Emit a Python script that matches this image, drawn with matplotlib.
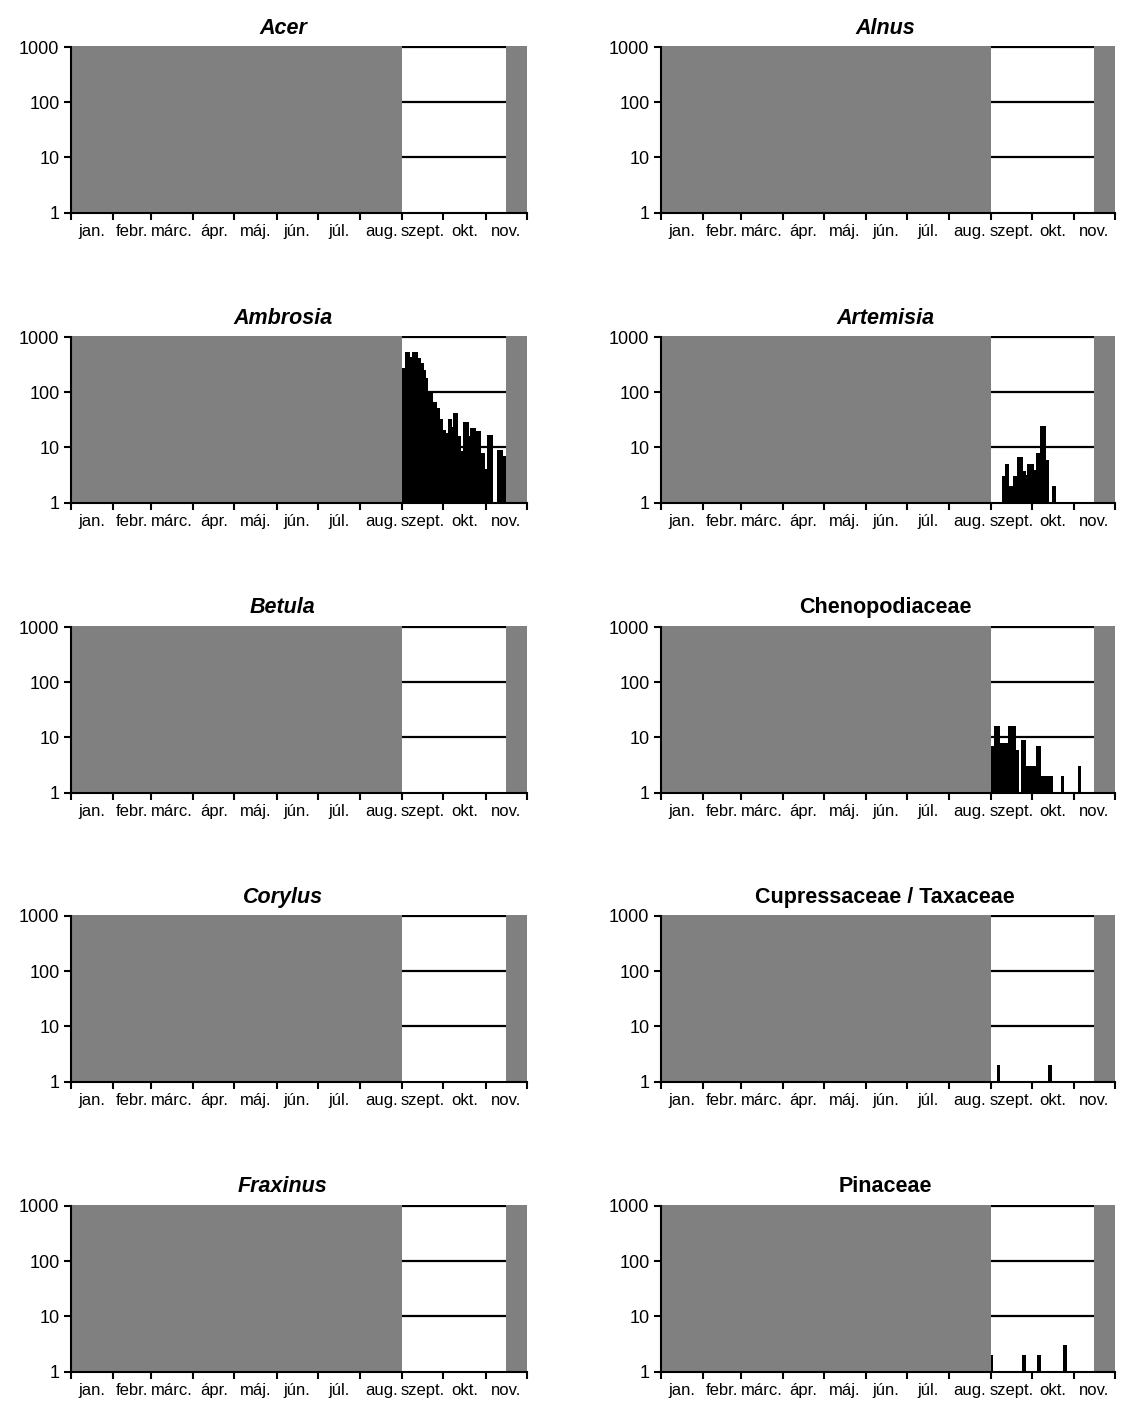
import numpy as np
import pandas as pd
import matplotlib
matplotlib.use("Agg")
import matplotlib.pyplot as plt
from matplotlib.ticker import FixedLocator, FixedFormatter, NullFormatter, NullLocator

plt.rcParams['font.family'] = ['Liberation Sans', 'DejaVu Sans']

# ---------------- data ----------------
YEAR = 2011
month_labels = ["jan.", "febr.", "márc.", "ápr.", "máj.", "jún.", "júl.",
                "aug.", "szept.", "okt.", "nov."]
taxa = ["Acer", "Alnus", "Ambrosia", "Artemisia", "Betula", "Chenopodiaceae",
        "Corylus", "Cupressaceae / Taxaceae", "Fraxinus", "Pinaceae"]
taxa_italic = [True, True, True, True, True, False, True, False, True, False]

y_ticks = [1, 10, 100, 1000]
y_tick_labels = ["1", "10", "100", "1000"]

# periods without measurement (gray)
no_data_periods = [("01-01", "08-31"), ("11-16", "11-30")]

# daily series starting at the given date
ambrosia_start = "09-01"
ambrosia_values = [270, 270, 270, 540, 540, 410, 440, 440, 540, 540,
                   540, 410, 410, 335, 335, 250, 250, 180, 96, 96,
                   96, 96, 39, 65, 65, 51, 51, 32, 32, 21,
                   21, 14, 14, 18, 32, 32, 23, 23, 42, 42,
                   16, 16, 8.5, 8.5, 8.5, 29, 29, 29, 16, 16,
                   22, 22, 22, 15, 20, 20, 20, 8, 8, 8,
                   4, 4, 4, 17, 17, 17, 0, 0, 0, 0,
                   9, 9, 9, 7, 7]

artemisia_start = "09-01"
artemisia_values = [0, 0, 0, 0, 0, 0, 0, 0, 0, 3,
                    3, 5, 5, 2, 2, 2, 2, 3, 3, 3,
                    6.7, 6.7, 6.7, 3.8, 3.8, 3.1, 3.1, 5, 5, 5,
                    5, 3.9, 3.9, 3.9, 8, 8, 8, 24, 24, 24,
                    6, 6, 0, 0, 0, 0, 2]

chenopodiaceae_start = "09-01"
chenopodiaceae_values = [7, 7, 7, 16, 16, 16, 8, 8, 8, 8,
                         8, 8, 8, 16, 16, 16, 16, 16, 6, 6,
                         0, 0, 0, 9, 9, 3, 3, 3, 3, 3,
                         3, 3, 3, 3, 7, 7, 2, 2, 2, 2,
                         2, 2, 2, 2, 2, 0, 0, 0, 0, 0,
                         0, 0, 2, 0, 0, 0, 0, 0, 0, 0,
                         0, 0, 0, 0, 0, 3]

# single days
cupressaceae_dates = ["09-06", "10-14"]
cupressaceae_values = [2, 2]
pinaceae_dates = ["09-01", "09-25", "10-06", "10-25"]
pinaceae_values = [2, 2, 2, 3]


def doy(md):
    return (pd.Timestamp(f"{YEAR}-{md}") - pd.Timestamp(f"{YEAR}-01-01")).days


def daily(start, values):
    s = doy(start)
    return [s + i for i in range(len(values))], list(values)


series = {
    "Acer": ([], []),
    "Alnus": ([], []),
    "Ambrosia": daily(ambrosia_start, ambrosia_values),
    "Artemisia": daily(artemisia_start, artemisia_values),
    "Betula": ([], []),
    "Chenopodiaceae": daily(chenopodiaceae_start, chenopodiaceae_values),
    "Corylus": ([], []),
    "Cupressaceae / Taxaceae": ([doy(d) for d in cupressaceae_dates], cupressaceae_values),
    "Fraxinus": ([], []),
    "Pinaceae": ([doy(d) for d in pinaceae_dates], pinaceae_values),
}

month_edges = [doy(f"{m:02d}-01") for m in range(1, 12)] + [doy("11-30") + 1]
month_centers = [(a + b) / 2 for a, b in zip(month_edges[:-1], month_edges[1:])]

# ---------------- figure ----------------
W, H = 1127, 1411
fig = plt.figure(figsize=(W / 100, H / 100), dpi=100)

col_left = [70.5, 660.5]
col_width = [456, 454]
title_x = [283, 885]
row_top = [47, 337, 627, 916, 1206]   # pixel row of the 1000 level
ax_h = 165.5                           # 1 .. 1000
px_per_decade = ax_h / 3
extra_px = 1.5                         # room above the 1000 line
y_top = 1000 * 10 ** (extra_px / px_per_decade)

for k, name in enumerate(taxa):
    r, c = divmod(k, 2)
    top = row_top[r] - extra_px
    ax = fig.add_axes([col_left[c] / W, 1 - (row_top[r] + ax_h) / H,
                       col_width[c] / W, (ax_h + extra_px) / H])
    ax.set_yscale('log')
    ax.set_xlim(month_edges[0], month_edges[-1])
    ax.set_ylim(1, y_top)

    for yv in y_ticks[1:]:
        ax.axhline(yv, color='black', lw=1.6, zorder=0.5)

    xs, vs = series[name]
    xs = np.array(xs, dtype=float)
    vs = np.array(vs, dtype=float)
    m = vs > 0
    if m.any():
        ax.bar(xs[m] + 0.5, vs[m], width=2.4, bottom=0, color='black',
               linewidth=0, zorder=1.2)

    for a, b in no_data_periods:
        ax.axvspan(doy(a), doy(b) + 1, ymin=0, ymax=1, color='#808080',
                   lw=0, zorder=1.8)

    for s in ['top', 'right']:
        ax.spines[s].set_visible(False)
    for s in ['left', 'bottom']:
        ax.spines[s].set_linewidth(1.5)
        ax.spines[s].set_color('black')
        ax.spines[s].set_zorder(3)
    ax.spines['left'].set_bounds(1, 1000)

    ax.yaxis.set_major_locator(FixedLocator(y_ticks))
    ax.yaxis.set_major_formatter(FixedFormatter(y_tick_labels))
    ax.yaxis.set_minor_locator(NullLocator())
    ax.tick_params(axis='y', which='major', length=5, width=1.5, pad=3,
                   labelsize=13, direction='out')

    ax.xaxis.set_major_locator(FixedLocator(month_edges))
    ax.xaxis.set_major_formatter(NullFormatter())
    ax.xaxis.set_minor_locator(FixedLocator(month_centers))
    ax.xaxis.set_minor_formatter(FixedFormatter(month_labels))
    ax.tick_params(axis='x', which='major', length=5, width=1.5, direction='out')
    ax.tick_params(axis='x', which='minor', length=0, pad=8, labelsize=12)

    fig.text(title_x[c] / W, 1 - (row_top[r] - 19) / H, name,
             ha='center', va='center', fontsize=15.5, fontweight='bold',
             fontstyle='italic' if taxa_italic[k] else 'normal')

fig.savefig("out.png", dpi=100)
